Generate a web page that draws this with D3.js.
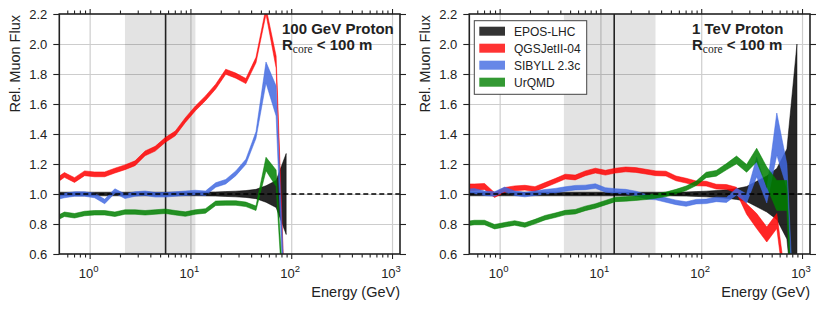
<!DOCTYPE html>
<html><head><meta charset="utf-8">
<script src="https://cdn.jsdelivr.net/npm/d3@7"></script>
<style>
body{margin:0;background:#fff}
svg{display:block}
text{font-family:"Liberation Sans",Arial,Helvetica,sans-serif;fill:#222}
</style>
</head><body>
<svg id="chart" width="822" height="310"></svg>
<script>
// ---------------- DATA ----------------
const energyLeft = [0.447,0.562,0.708,0.891,1.12,1.41,1.78,2.24,2.82,3.55,4.47,5.62,7.08,8.91,11.2,14.1,17.8,22.4,28.2,35.5,44.7,56.2,70.8,89.1];
const energyRight = [0.447,0.562,0.708,0.891,1.12,1.41,1.78,2.24,2.82,3.55,4.47,5.62,7.08,8.91,11.2,14.1,17.8,22.4,28.2,35.5,44.7,56.2,70.8,89.1,112,141,178,224,282,355,447,562,708,891];

// 100 GeV proton (left)
const eposLeft    = [1,1,1,1,1,1,1,1,1,1,1,1,1,1,1,1,1,1,1,1,1,1,1,1];
const eposLeftErr = [0.012,0.012,0.012,0.012,0.012,0.012,0.012,0.012,0.012,0.012,0.012,0.012,0.012,0.012,0.012,0.013,0.014,0.016,0.019,0.023,0.031,0.055,0.09,0.27];
const qgsLeft     = [1.08,1.127,1.093,1.138,1.131,1.131,1.156,1.178,1.205,1.271,1.302,1.36,1.404,1.493,1.571,1.638,1.716,1.815,1.789,1.753,1.893,2.22,1.88,0.0];
const qgsLeftErr  = [0.016,0.016,0.016,0.016,0.016,0.016,0.016,0.016,0.016,0.016,0.016,0.016,0.016,0.016,0.016,0.016,0.016,0.017,0.017,0.017,0.018,0.022,0.04,0.05];
const sibLeft     = [0.975,0.99,1.0,1.0,0.99,0.95,1.02,0.985,1.0,1.005,0.995,0.995,1.0,1.005,1.01,1.005,1.06,1.082,1.138,1.215,1.393,1.81,1.62,0.0];
const sibLeftErr  = [0.015,0.015,0.015,0.015,0.015,0.015,0.015,0.015,0.015,0.015,0.015,0.015,0.015,0.015,0.015,0.015,0.015,0.015,0.016,0.017,0.022,0.07,0.1,0.1];
const urqLeft     = [0.83,0.865,0.855,0.87,0.875,0.875,0.865,0.88,0.88,0.875,0.88,0.885,0.875,0.866,0.88,0.887,0.938,0.94,0.94,0.931,0.905,1.2,1.105,0.0];
const urqLeftErr  = [0.015,0.015,0.015,0.015,0.015,0.015,0.015,0.015,0.015,0.015,0.015,0.015,0.015,0.015,0.015,0.015,0.015,0.015,0.015,0.015,0.015,0.045,0.055,0.06];

// 1 TeV proton (right)
const eposRight    = [1,1,1,1,1,1,1,1,1,1,1,1,1,1,1,1,1,1,1,1,1,1,1,1,1,1,1,1,1,1,1,1,1,1];
const eposRightErr = [0.012,0.012,0.012,0.012,0.012,0.012,0.012,0.012,0.012,0.012,0.012,0.012,0.012,0.012,0.012,0.012,0.012,0.012,0.012,0.012,0.012,0.013,0.014,0.016,0.019,0.023,0.029,0.036,0.05,0.085,0.12,0.17,0.3,1.0];
const qgsRight     = [1.045,1.045,1.05,0.993,1.027,1.038,1.042,1.033,1.06,1.087,1.116,1.11,1.138,1.156,1.142,1.156,1.164,1.16,1.149,1.138,1.136,1.104,1.089,1.071,1.069,1.049,1.047,1.027,0.9,0.82,0.73,0.82,0.3,0.0];
const qgsRightErr  = [0.022,0.022,0.02,0.016,0.016,0.016,0.016,0.016,0.016,0.016,0.016,0.016,0.016,0.016,0.016,0.016,0.016,0.016,0.016,0.016,0.016,0.016,0.016,0.016,0.016,0.016,0.016,0.018,0.035,0.05,0.05,0.05,0.06,0.1];
const sibRight     = [1.015,1.02,1.005,1.0,1.031,1.005,0.996,1.005,1.015,1.022,1.033,1.042,1.044,1.053,1.027,1.02,1.016,1.004,0.982,0.976,0.96,0.944,0.933,0.949,0.951,0.964,0.96,1.016,0.97,1.18,0.985,1.4,1.12,-0.3];
const sibRightErr  = [0.016,0.016,0.015,0.015,0.015,0.015,0.015,0.015,0.015,0.015,0.015,0.015,0.015,0.015,0.015,0.015,0.015,0.015,0.015,0.015,0.015,0.015,0.015,0.015,0.015,0.015,0.016,0.022,0.03,0.065,0.045,0.14,0.08,0.1];
const urqRight     = [0.8,0.81,0.81,0.782,0.795,0.807,0.793,0.816,0.842,0.858,0.876,0.882,0.904,0.92,0.942,0.964,0.967,0.972,0.978,0.987,0.998,1.016,1.038,1.071,1.127,1.138,1.182,1.227,1.171,1.26,1.115,0.99,0.99,-0.6];
const urqRightErr  = [0.015,0.015,0.015,0.015,0.015,0.015,0.015,0.015,0.015,0.015,0.015,0.015,0.015,0.015,0.015,0.015,0.015,0.015,0.015,0.015,0.015,0.015,0.015,0.015,0.018,0.019,0.021,0.026,0.026,0.045,0.065,0.1,0.1,0.1];

const modelNames  = ["EPOS-LHC","QGSJetII-04","SIBYLL 2.3c","UrQMD"];
const modelColors = ["#000000","#ff0000","#4169e1","#008000"];

const yTicks      = [0.6,0.8,1.0,1.2,1.4,1.6,1.8,2.0,2.2];
const yTickLabels = ["0.6","0.8","1.0","1.2","1.4","1.6","1.8","2.0","2.2"];
const yGrid       = [0.8,1.0,1.2,1.4,1.6,1.8,2.0];
const xMajorTicks = [1,10,100,1000];
const xTickBase   = ["10","10","10","10"];
const xTickExp    = ["0","1","2","3"];
const xMinorMult  = [2,3,4,5,6,7,8,9];
const xDomain     = [0.5,1200];
const yDomain     = [0.6,2.2];

const panelTitle   = ["100 GeV Proton","1 TeV Proton"];
const shadedRanges = [[2.24,11.2],[4.34,35.2]];
const markerEnergy = [5.67,13.7];
const referenceLevel = 1.0;
const yLabel = "Rel. Muon Flux";
const xLabel = "Energy (GeV)";

// ---------------- DRAW ----------------
const svg = d3.select("#chart");
const panels = [
  {left:59.3, right:400, top:14, bottom:254, E:energyLeft,
   series:[[eposLeft,eposLeftErr],[qgsLeft,qgsLeftErr],[sibLeft,sibLeftErr],[urqLeft,urqLeftErr]], legend:false},
  {left:469.3, right:810, top:14, bottom:254, E:energyRight,
   series:[[eposRight,eposRightErr],[qgsRight,qgsRightErr],[sibRight,sibRightErr],[urqRight,urqRightErr]], legend:true}
];

panels.forEach((p,pi)=>{
  const x = d3.scaleLog().domain(xDomain).range([p.left,p.right]);
  const y = d3.scaleLinear().domain(yDomain).range([p.bottom,p.top]);
  const W = p.right-p.left, H = p.bottom-p.top;
  const g = svg.append("g");
  const clipId = "clip"+pi;
  svg.append("defs").append("clipPath").attr("id",clipId)
    .append("rect").attr("x",p.left).attr("y",p.top).attr("width",W).attr("height",H);

  // grid
  const grid = g.append("g");
  grid.append("g").attr("transform",`translate(0,${p.bottom})`)
    .call(d3.axisBottom(x).tickValues(xMajorTicks.filter(v=>v>xDomain[0]&&v<xDomain[1])).tickSize(-H).tickFormat(""))
    .call(a=>{a.select(".domain").remove(); a.selectAll("line").attr("stroke","#cdcdcd").attr("stroke-width",1.2);});
  grid.append("g").attr("transform",`translate(${p.left},0)`)
    .call(d3.axisLeft(y).tickValues(yGrid).tickSize(-W).tickFormat(""))
    .call(a=>{a.select(".domain").remove(); a.selectAll("line").attr("stroke","#cdcdcd").attr("stroke-width",1.2);});

  // shaded range
  const sr = shadedRanges[pi];
  g.append("rect").attr("x",x(sr[0])).attr("y",p.top).attr("width",x(sr[1])-x(sr[0])).attr("height",H)
    .attr("fill","#000").attr("fill-opacity",0.11);
  // marker vertical line
  g.append("line").attr("x1",x(markerEnergy[pi])).attr("x2",x(markerEnergy[pi]))
    .attr("y1",p.top).attr("y2",p.bottom).attr("stroke","#222").attr("stroke-width",1.6);

  // bands
  const dg = g.append("g").attr("clip-path",`url(#${clipId})`);
  p.series.forEach((s,si)=>{
    const data = p.E.map((e,i)=>({e, v:s[0][i], err:s[1][i]}));
    const area = d3.area().x(d=>x(d.e)).y0(d=>y(d.v-d.err)).y1(d=>y(d.v+d.err));
    dg.append("path").datum(data).attr("d",area)
      .attr("fill",modelColors[si]).attr("fill-opacity",0.85)
      .attr("stroke",modelColors[si]).attr("stroke-opacity",0.85).attr("stroke-width",0.6);
  });
  // reference dashed line
  dg.append("line").attr("x1",p.left).attr("x2",p.right).attr("y1",y(referenceLevel)).attr("y2",y(referenceLevel))
    .attr("stroke","#000").attr("stroke-width",1.3).attr("stroke-dasharray","5,3");

  // axes ticks
  const minors = [];
  xMajorTicks.concat([0.1]).forEach(d=>xMinorMult.forEach(m=>{const v=d*m; if(v>xDomain[0]&&v<xDomain[1]) minors.push(v);}));
  const styleAxis = a=>{a.select(".domain").remove(); a.selectAll("line").attr("stroke","#222").attr("stroke-width",1.1);};
  g.append("g").attr("transform",`translate(0,${p.bottom})`)
    .call(d3.axisBottom(x).tickValues(xMajorTicks).tickSize(5).tickFormat("")).call(styleAxis);
  g.append("g").attr("transform",`translate(0,${p.bottom})`)
    .call(d3.axisBottom(x).tickValues(minors).tickSize(3.5).tickFormat("")).call(styleAxis);
  g.append("g").attr("transform",`translate(0,${p.top})`)
    .call(d3.axisTop(x).tickValues(xMajorTicks).tickSize(5).tickFormat("")).call(styleAxis);
  g.append("g").attr("transform",`translate(0,${p.top})`)
    .call(d3.axisTop(x).tickValues(minors).tickSize(3.5).tickFormat("")).call(styleAxis);
  g.append("g").attr("transform",`translate(${p.left},0)`)
    .call(d3.axisLeft(y).tickValues(yTicks).tickSize(6).tickPadding(6).tickFormat((d,i)=>yTickLabels[i]))
    .call(styleAxis)
    .call(a=>a.selectAll("text").attr("font-size",13).style("font-family","'Liberation Sans',Arial,sans-serif").attr("fill","#222"));
  g.append("g").attr("transform",`translate(${p.right},0)`)
    .call(d3.axisRight(y).tickValues(yTicks).tickSize(6).tickFormat("")).call(styleAxis);

  // x tick labels with superscripts
  xMajorTicks.forEach((v,i)=>{
    const t = g.append("text").attr("x",x(v)-1).attr("y",p.bottom+24).attr("text-anchor","middle").attr("font-size",13);
    t.append("tspan").text(xTickBase[i]);
    t.append("tspan").attr("dy",-6).attr("font-size",9.5).text(xTickExp[i]);
  });

  // spines
  g.append("rect").attr("x",p.left).attr("y",p.top).attr("width",W).attr("height",H)
    .attr("fill","none").attr("stroke","#222").attr("stroke-width",1.6);

  // axis labels
  g.append("text").attr("transform",`translate(${p.left-39.8},15) rotate(-90)`)
    .attr("text-anchor","end").attr("font-size",14.5).text(yLabel);
  g.append("text").attr("x",p.right).attr("y",297).attr("text-anchor","end").attr("font-size",14.5).text(xLabel);

  // annotation
  const ax = p.left+222.7;
  g.append("text").attr("x",ax).attr("y",33.5).attr("font-size",15).attr("font-weight","bold").text(panelTitle[pi]);
  const t2 = g.append("text").attr("x",ax).attr("y",50).attr("font-size",15).attr("font-weight","bold");
  t2.append("tspan").text("R");
  t2.append("tspan").attr("dy",3).attr("font-size",11.5).attr("font-weight","normal")
    .style("font-family","'Liberation Serif','Times New Roman',serif").text("core");
  t2.append("tspan").attr("dy",-3).text("\u00a0< 100 m");

  // legend
  if(p.legend){
    const lg = g.append("g");
    lg.append("rect").attr("x",474.3).attr("y",20.7).attr("width",112.4).attr("height",73.6)
      .attr("fill","#fff").attr("stroke","#444").attr("stroke-width",1);
    modelNames.forEach((n,i)=>{
      const cy = 31.2 + i*17;
      lg.append("rect").attr("x",479.3).attr("y",cy-4.5).attr("width",25.7).attr("height",9)
        .attr("fill",modelColors[i]).attr("fill-opacity",0.8);
      lg.append("text").attr("x",514).attr("y",cy+4.3).attr("font-size",12).text(n);
    });
  }
});
</script>
</body></html>
